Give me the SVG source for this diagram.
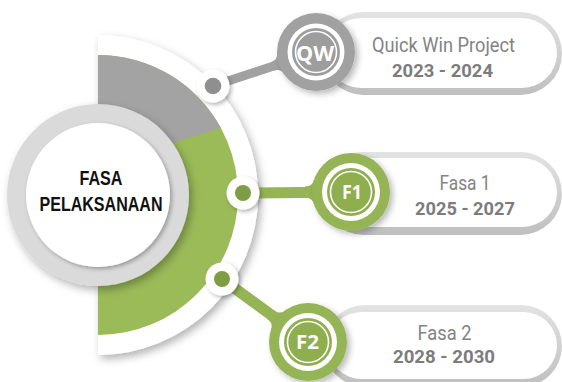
<svg xmlns="http://www.w3.org/2000/svg" width="562" height="382" viewBox="0 0 562 382">
<defs>
<style>
.ttl{font-family:Roboto,"Liberation Sans",Arial,sans-serif;font-size:20px;fill:#838383;text-anchor:middle}
.yr{font-family:Roboto,"Liberation Sans",Arial,sans-serif;font-weight:bold;font-size:18.5px;fill:#7c7c7c;text-anchor:middle}
.lbl{font-family:"Open Sans","Liberation Sans",sans-serif;font-weight:bold;fill:#fff;text-anchor:middle}
.ctr{font-family:"Liberation Sans",Arial,sans-serif;font-weight:bold;font-size:19.5px;fill:#111;text-anchor:middle}
.rim{fill:url(#rimg)}
.pill{fill:#fff}
.dotw{fill:#fff;filter:url(#dsh)}
.gl{stroke:#a1a1a1;stroke-width:9;fill:none}
.gr{stroke:#95b455;stroke-width:11;fill:none}
.thin{fill:none;stroke:#fff;stroke-width:1.6}
</style>
<linearGradient id="rimg" x1="0" y1="0" x2="0" y2="1"><stop offset="0" stop-color="#e3e3e3"/><stop offset="1" stop-color="#bfbfbf"/></linearGradient>
<linearGradient id="vg" gradientUnits="userSpaceOnUse" x1="0" y1="15" x2="0" y2="382"><stop offset="0" stop-color="#000" stop-opacity="0"/><stop offset="0.08" stop-color="#000" stop-opacity="0.35"/><stop offset="0.9" stop-color="#000" stop-opacity="0.3"/><stop offset="1" stop-color="#000" stop-opacity="0.05"/></linearGradient>
<filter id="blur1" x="-200%" y="-10%" width="500%" height="120%"><feGaussianBlur stdDeviation="1.2"/></filter>
<filter id="sh" x="-20%" y="-20%" width="150%" height="150%"><feDropShadow dx="3" dy="4" stdDeviation="4" flood-color="#000" flood-opacity="0.3"/></filter>
<filter id="dsh" x="-50%" y="-50%" width="200%" height="200%"><feDropShadow dx="2" dy="2" stdDeviation="2" flood-color="#000" flood-opacity="0.3"/></filter>
<filter id="csh" x="-30%" y="-30%" width="170%" height="170%"><feDropShadow dx="3" dy="3" stdDeviation="3" flood-color="#000" flood-opacity="0.28"/></filter>
</defs>

<g id="arc">
<line x1="97" y1="15" x2="97" y2="382" stroke="url(#vg)" stroke-width="2.5" filter="url(#blur1)"/>
<path d="M98,35 A160,160 0 0 1 98,355 Z" fill="#fff" filter="url(#sh)"/>
<path d="M98,55 A140,140 0 0 1 98,335 Z" fill="#9bbb59"/>
<path d="M98,55 A140,140 0 0 1 220.8,127.8 L173,143 L98,195 Z" fill="#a3a3a3"/>
</g>

<g id="center">
<circle cx="98" cy="195" r="91" fill="#dadada" filter="url(#sh)"/>
<circle cx="98" cy="195" r="72" fill="#fff" filter="url(#dsh)"/>
<text class="ctr" x="101" y="185" textLength="43" lengthAdjust="spacingAndGlyphs">FASA</text>
<text class="ctr" x="101" y="211" textLength="123" lengthAdjust="spacingAndGlyphs">PELAKSANAAN</text>
</g>

<g id="connectors">
<line class="gl" x1="213" y1="86" x2="316" y2="52"/>
<line class="gr" x1="243" y1="193" x2="351" y2="192"/>
<line class="gr" x1="222" y1="279" x2="308" y2="342"/>
<circle class="dotw" cx="213" cy="86" r="16.5"/>
<circle cx="213" cy="86" r="8.3" fill="#8f8f8f"/>
<circle class="dotw" cx="243" cy="193" r="16.5"/>
<circle cx="243" cy="193" r="8" fill="#7f9d45"/>
<circle class="dotw" cx="222" cy="279" r="16.5"/>
<circle cx="222" cy="279" r="8" fill="#7f9d45"/>
</g>

<g id="node-qw">
<rect class="rim" x="322" y="12" width="240" height="83" rx="41.5"/>
<rect class="pill" x="326" y="18" width="231" height="70" rx="35"/>
<path d="M-46,-4.5 Q-38.7,-4.5 -37.3,-11 L-20,0 L-46,0 Z M-46,4.5 Q-38.7,4.5 -37.3,11 L-20,0 L-46,0 Z" fill="#a1a1a1" transform="translate(316,52) rotate(-18.3)"/>
<circle cx="316" cy="52" r="39" fill="#a1a1a1" filter="url(#csh)"/>
<circle cx="316" cy="52" r="28.5" fill="#fff"/>
<circle cx="316" cy="52" r="24" fill="#9d9d9d"/>
<circle class="thin" cx="316" cy="52" r="20.5"/>
<text class="lbl" x="315" y="60.5" font-size="21" textLength="38" lengthAdjust="spacingAndGlyphs">QW</text>
<text class="ttl" x="443.5" y="52" textLength="143" lengthAdjust="spacingAndGlyphs">Quick Win Project</text>
<text class="yr" x="442.5" y="77" textLength="101" lengthAdjust="spacingAndGlyphs">2023 - 2024</text>
</g>

<g id="node-f1">
<rect class="rim" x="322" y="152" width="240" height="83" rx="41.5"/>
<rect class="pill" x="326" y="158" width="231" height="69" rx="34.5"/>
<path d="M-46,-5.5 Q-38.6,-5.5 -37.1,-12 L-20,0 L-46,0 Z M-46,5.5 Q-38.6,5.5 -37.1,12 L-20,0 L-46,0 Z" fill="#95b455" transform="translate(351,192)"/>
<circle cx="351" cy="192" r="39" fill="#95b455" filter="url(#csh)"/>
<circle cx="351" cy="192" r="29" fill="#fff"/>
<circle cx="351" cy="192" r="24" fill="#8fae4e"/>
<circle class="thin" cx="351" cy="192" r="20.5"/>
<text class="lbl" x="352" y="198.5" font-size="19" textLength="20" lengthAdjust="spacingAndGlyphs">F1</text>
<text class="ttl" x="465" y="190" textLength="51" lengthAdjust="spacingAndGlyphs">Fasa 1</text>
<text class="yr" x="465" y="215" textLength="100" lengthAdjust="spacingAndGlyphs">2025 - 2027</text>
</g>

<g id="node-f2">
<rect class="rim" x="324" y="305" width="238" height="82" rx="41"/>
<rect class="pill" x="328" y="312" width="229" height="67" rx="33.5"/>
<path d="M-46,-5.5 Q-38.6,-5.5 -37.1,-12 L-20,0 L-46,0 Z M-46,5.5 Q-38.6,5.5 -37.1,12 L-20,0 L-46,0 Z" fill="#95b455" transform="translate(308,342) rotate(36.2)"/>
<circle cx="308" cy="342" r="39" fill="#95b455" filter="url(#csh)"/>
<circle cx="308" cy="342" r="29" fill="#fff"/>
<circle cx="308" cy="342" r="24" fill="#8fae4e"/>
<circle class="thin" cx="308" cy="342" r="20.5"/>
<text class="lbl" x="307.5" y="349" font-size="19" textLength="23" lengthAdjust="spacingAndGlyphs">F2</text>
<text class="ttl" x="444.5" y="340" textLength="54" lengthAdjust="spacingAndGlyphs">Fasa 2</text>
<text class="yr" x="444" y="363" textLength="102" lengthAdjust="spacingAndGlyphs">2028 - 2030</text>
</g>
</svg>
